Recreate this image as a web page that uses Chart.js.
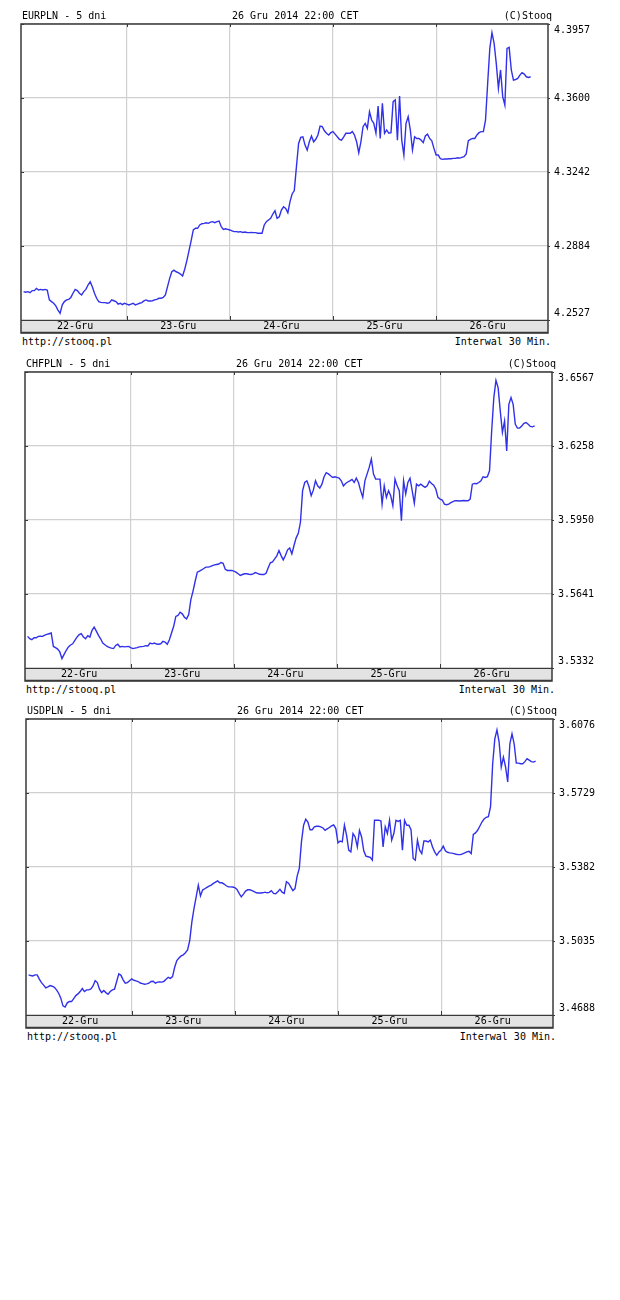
<!DOCTYPE html>
<html>
<head>
<meta charset="utf-8">
<script src="https://cdn.jsdelivr.net/npm/chart.js@4"></script>
<style>
   body { margin: 0; background: #fff; width: 620px; height: 1300px; position: relative; overflow: hidden; }
   .txt { position: absolute; font: 10px "DejaVu Sans Mono", monospace; color: #000; line-height: 12px; white-space: pre; }
   canvas { position: absolute; left: 0; }
</style>
</head>
<body>
<script>
"use strict";

// data: 30 min quotes, 22-Gru 00:00 .. 26-Gru 22:00
const dayLabels = ["22-Gru", "23-Gru", "24-Gru", "25-Gru", "26-Gru"];
const dateText = "26 Gru 2014 22:00 CET";

const eurpln = [
   4.2664, 4.2661, 4.2664, 4.2659, 4.2669, 4.2669, 4.2680, 4.2672, 4.2675, 4.2672, 4.2675, 4.2672, 4.2624, 4.2616, 4.2608, 4.2595, 4.2575, 4.2559, 4.2600, 4.2616, 4.2624, 4.2627, 4.2636, 4.2656, 4.2675, 4.2669, 4.2656, 4.2648, 4.2664, 4.2675, 4.2696, 4.2712, 4.2688, 4.2656, 4.2632, 4.2616, 4.2612, 4.2611, 4.2611, 4.2608, 4.2611, 4.2624, 4.2620, 4.2616, 4.2604, 4.2608, 4.2601, 4.2608,
   4.2604, 4.2600, 4.2604, 4.2608, 4.2600, 4.2604, 4.2608, 4.2611, 4.2619, 4.2624, 4.2619, 4.2619, 4.2620, 4.2624, 4.2627, 4.2632, 4.2632, 4.2636, 4.2648, 4.2688, 4.2728, 4.2760, 4.2768, 4.2760, 4.2756, 4.2749, 4.2740, 4.2772, 4.2814, 4.2862, 4.2910, 4.2962, 4.2970, 4.2970, 4.2986, 4.2992, 4.2994, 4.2997, 4.2994, 4.3000, 4.3002, 4.2997, 4.3002, 4.3005, 4.2978, 4.2965, 4.2968, 4.2965,
   4.2962, 4.2958, 4.2954, 4.2954, 4.2952, 4.2954, 4.2950, 4.2952, 4.2950, 4.2949, 4.2950, 4.2949, 4.2949, 4.2946, 4.2946, 4.2946, 4.2986, 4.3002, 4.3010, 4.3018, 4.3039, 4.3055, 4.3018, 4.3026, 4.3058, 4.3074, 4.3066, 4.3045, 4.3099, 4.3136, 4.3152, 4.3268, 4.3380, 4.3409, 4.3412, 4.3372, 4.3348, 4.3388, 4.3416, 4.3388, 4.3400, 4.3421, 4.3464, 4.3461, 4.3441, 4.3429, 4.3421, 4.3432,
   4.3437, 4.3425, 4.3412, 4.3400, 4.3396, 4.3412, 4.3429, 4.3429, 4.3429, 4.3437, 4.3421, 4.3388, 4.3335, 4.3388, 4.3461, 4.3477, 4.3453, 4.3533, 4.3493, 4.3477, 4.3429, 4.3561, 4.3404, 4.3574, 4.3429, 4.3445, 4.3429, 4.3432, 4.3582, 4.3590, 4.3396, 4.3609, 4.3396, 4.3324, 4.3477, 4.3509, 4.3445, 4.3348, 4.3412, 4.3404, 4.3404, 4.3396, 4.3384, 4.3416, 4.3425, 4.3404, 4.3393, 4.3356,
   4.3324, 4.3324, 4.3306, 4.3303, 4.3305, 4.3305, 4.3306, 4.3306, 4.3308, 4.3308, 4.3311, 4.3309, 4.3313, 4.3316, 4.3329, 4.3393, 4.3400, 4.3404, 4.3404, 4.3421, 4.3432, 4.3437, 4.3437, 4.3493, 4.3670, 4.3839, 4.3915, 4.3863, 4.3767, 4.3646, 4.3735, 4.3606, 4.3565, 4.3839, 4.3844, 4.3735, 4.3686, 4.3689, 4.3694, 4.3710, 4.3722, 4.3715, 4.3702, 4.3699, 4.3702,
];
const chfpln = [
   3.5464, 3.5454, 3.5450, 3.5458, 3.5458, 3.5464, 3.5465, 3.5464, 3.5469, 3.5472, 3.5475, 3.5478, 3.5422, 3.5417, 3.5411, 3.5399, 3.5371, 3.5389, 3.5406, 3.5420, 3.5428, 3.5433, 3.5447, 3.5461, 3.5471, 3.5475, 3.5461, 3.5454, 3.5467, 3.5461, 3.5489, 3.5503, 3.5486, 3.5468, 3.5454, 3.5436, 3.5429, 3.5422, 3.5418, 3.5415, 3.5413, 3.5426, 3.5431, 3.5420, 3.5422, 3.5420, 3.5421, 3.5422,
   3.5417, 3.5413, 3.5415, 3.5417, 3.5420, 3.5421, 3.5422, 3.5425, 3.5424, 3.5436, 3.5433, 3.5436, 3.5432, 3.5431, 3.5433, 3.5443, 3.5440, 3.5431, 3.5450, 3.5478, 3.5506, 3.5547, 3.5551, 3.5565, 3.5558, 3.5544, 3.5537, 3.5555, 3.5617, 3.5653, 3.5694, 3.5732, 3.5736, 3.5741, 3.5747, 3.5753, 3.5753, 3.5755, 3.5759, 3.5762, 3.5764, 3.5766, 3.5772, 3.5769, 3.5744, 3.5739, 3.5739, 3.5739,
   3.5736, 3.5732, 3.5725, 3.5718, 3.5722, 3.5725, 3.5725, 3.5723, 3.5722, 3.5725, 3.5730, 3.5727, 3.5723, 3.5722, 3.5722, 3.5727, 3.5750, 3.5771, 3.5775, 3.5787, 3.5800, 3.5822, 3.5801, 3.5783, 3.5801, 3.5825, 3.5833, 3.5808, 3.5843, 3.5875, 3.5894, 3.5940, 3.6072, 3.6106, 3.6113, 3.6088, 3.6051, 3.6074, 3.6113, 3.6092, 3.6083, 3.6099, 3.6130, 3.6147, 3.6142, 3.6134, 3.6127, 3.6130,
   3.6127, 3.6124, 3.6113, 3.6092, 3.6102, 3.6108, 3.6113, 3.6119, 3.6106, 3.6124, 3.6106, 3.6072, 3.6044, 3.6113, 3.6141, 3.6169, 3.6204, 3.6141, 3.6120, 3.6120, 3.6120, 3.6016, 3.6092, 3.6044, 3.6072, 3.6051, 3.6009, 3.6120, 3.6092, 3.6072, 3.5947, 3.6113, 3.6058, 3.6106, 3.6124, 3.6072, 3.6019, 3.6099, 3.6092, 3.6099, 3.6092, 3.6086, 3.6092, 3.6111, 3.6102, 3.6095, 3.6079, 3.6044,
   3.6037, 3.6033, 3.6016, 3.6013, 3.6016, 3.6022, 3.6026, 3.6030, 3.6030, 3.6029, 3.6030, 3.6031, 3.6030, 3.6030, 3.6037, 3.6099, 3.6102, 3.6101, 3.6106, 3.6113, 3.6130, 3.6127, 3.6130, 3.6155, 3.6321, 3.6460, 3.6532, 3.6502, 3.6405, 3.6315, 3.6363, 3.6238, 3.6432, 3.6460, 3.6432, 3.6349, 3.6333, 3.6333, 3.6342, 3.6353, 3.6356, 3.6349, 3.6340, 3.6338, 3.6342,
];
const usdpln = [
   3.4876, 3.4873, 3.4871, 3.4876, 3.4876, 3.4856, 3.4840, 3.4828, 3.4815, 3.4820, 3.4826, 3.4823, 3.4818, 3.4806, 3.4790, 3.4767, 3.4731, 3.4725, 3.4745, 3.4751, 3.4751, 3.4765, 3.4779, 3.4787, 3.4798, 3.4812, 3.4798, 3.4806, 3.4806, 3.4810, 3.4824, 3.4849, 3.4840, 3.4809, 3.4793, 3.4803, 3.4793, 3.4785, 3.4798, 3.4806, 3.4809, 3.4845, 3.4881, 3.4874, 3.4853, 3.4837, 3.4840, 3.4849,
   3.4857, 3.4851, 3.4848, 3.4845, 3.4838, 3.4835, 3.4832, 3.4834, 3.4837, 3.4845, 3.4846, 3.4837, 3.4842, 3.4843, 3.4842, 3.4846, 3.4856, 3.4865, 3.4860, 3.4868, 3.4912, 3.4943, 3.4955, 3.4965, 3.4970, 3.4980, 3.4993, 3.5037, 3.5125, 3.5188, 3.5242, 3.5297, 3.5246, 3.5274, 3.5280, 3.5286, 3.5292, 3.5297, 3.5305, 3.5311, 3.5317, 3.5308, 3.5308, 3.5302, 3.5294, 3.5289, 3.5289, 3.5288,
   3.5285, 3.5277, 3.5258, 3.5242, 3.5255, 3.5269, 3.5275, 3.5275, 3.5271, 3.5266, 3.5261, 3.5260, 3.5260, 3.5261, 3.5264, 3.5261, 3.5263, 3.5271, 3.5258, 3.5257, 3.5266, 3.5277, 3.5264, 3.5258, 3.5313, 3.5306, 3.5289, 3.5271, 3.5281, 3.5339, 3.5375, 3.5500, 3.5578, 3.5606, 3.5593, 3.5557, 3.5557, 3.5570, 3.5573, 3.5573, 3.5570, 3.5565, 3.5554, 3.5561, 3.5567, 3.5575, 3.5579, 3.5562,
   3.5495, 3.5504, 3.5500, 3.5578, 3.5531, 3.5461, 3.5453, 3.5539, 3.5523, 3.5476, 3.5554, 3.5523, 3.5458, 3.5433, 3.5430, 3.5427, 3.5414, 3.5601, 3.5601, 3.5601, 3.5598, 3.5476, 3.5570, 3.5539, 3.5601, 3.5508, 3.5539, 3.5601, 3.5596, 3.5601, 3.5461, 3.5601, 3.5578, 3.5578, 3.5557, 3.5422, 3.5414, 3.5508, 3.5461, 3.5445, 3.5504, 3.5504, 3.5500, 3.5508, 3.5476, 3.5453, 3.5437, 3.5453,
   3.5461, 3.5480, 3.5458, 3.5451, 3.5448, 3.5447, 3.5445, 3.5442, 3.5440, 3.5440, 3.5444, 3.5448, 3.5453, 3.5456, 3.5445, 3.5535, 3.5542, 3.5554, 3.5573, 3.5593, 3.5607, 3.5615, 3.5618, 3.5664, 3.5866, 3.5983, 3.6025, 3.5968, 3.5851, 3.5897, 3.5851, 3.5781, 3.5960, 3.6007, 3.5960, 3.5869, 3.5869, 3.5866, 3.5866, 3.5876, 3.5890, 3.5883, 3.5876, 3.5874, 3.5879,
];

// y axis ticks (value + printed label)
const eurTicks = [4.2527, 4.28845, 4.3242, 4.35995, 4.3957];
const eurTickLabels = ["4.2527", "4.2884", "4.3242", "4.3600", "4.3957"];
const chfTicks = [3.5332, 3.564075, 3.59495, 3.625825, 3.6567];
const chfTickLabels = ["3.5332", "3.5641", "3.5950", "3.6258", "3.6567"];
const usdTicks = [3.4688, 3.5035, 3.5382, 3.5729, 3.6076];
const usdTickLabels = ["3.4688", "3.5035", "3.5382", "3.5729", "3.6076"];

const pointsPerDay = 48;
const MONO = "DejaVu Sans Mono";
const STRIP_H = 13;
const PLOT_W = 527;
const PLOT_H = 296;

// x ticks: day boundaries (grid) and day middles (labels)
const xTickValues = dayLabels.flatMap((d, i) => (i ? [i, i + 0.5] : [0.5]));

const framePlugin = {
   id: "frame",
   beforeDraw(chart) {
      const { ctx, chartArea: a } = chart;
      ctx.save();
      ctx.fillStyle = "#e3e3e3";
      ctx.fillRect(a.left, a.bottom, a.right - a.left, STRIP_H);
      ctx.restore();
   },
   afterDraw(chart) {
      const { ctx, chartArea: a, scales } = chart;
      ctx.save();
      ctx.strokeStyle = "#3a3a3a";
      ctx.lineWidth = 1.5;
      ctx.strokeRect(a.left, a.top, a.right - a.left, a.bottom + STRIP_H - a.top);
      // thicker strip bottom
      ctx.beginPath();
      ctx.moveTo(a.left, a.bottom + STRIP_H - 0.5);
      ctx.lineTo(a.right, a.bottom + STRIP_H - 0.5);
      ctx.stroke();
      ctx.lineWidth = 1;
      ctx.beginPath();
      ctx.moveTo(a.left, a.bottom + 0.5);
      ctx.lineTo(a.right, a.bottom + 0.5);
      scales.x.ticks.forEach((t) => {
         if (!Number.isInteger(t.value)) return;
         const px = Math.round(scales.x.getPixelForValue(t.value)) + 0.5;
         ctx.moveTo(px, a.top);
         ctx.lineTo(px, a.top + 3);
         ctx.moveTo(px, a.bottom);
         ctx.lineTo(px, a.bottom - 4);
      });
      scales.y.ticks.forEach((t) => {
         const py = Math.round(scales.y.getPixelForValue(t.value)) + 0.5;
         ctx.moveTo(a.right, py);
         ctx.lineTo(a.right + 2, py);
         ctx.moveTo(a.left, py);
         ctx.lineTo(a.left + 3, py);
      });
      ctx.stroke();
      ctx.restore();
   },
};

const addText = function (text, top, left, right) {
   const el = document.createElement("div");
   el.className = "txt";
   el.textContent = text;
   el.style.top = top + "px";
   if (left !== null) el.style.left = left + "px";
   else el.style.right = right + "px";
   document.body.appendChild(el);
};

const makeChart = function (cfg) {
   const plotRight = cfg.plotLeft + PLOT_W;
   const canvas = document.createElement("canvas");
   canvas.width = 620;
   canvas.height = 4 + PLOT_H + STRIP_H + 3;
   canvas.style.top = cfg.plotTop - 4 + "px";
   document.body.appendChild(canvas);

   // header and footer
   addText(cfg.name + " - 5 dni", cfg.plotTop - 14, cfg.plotLeft + 1, null);
   addText(dateText, cfg.plotTop - 14, cfg.plotLeft + 211, null);
   addText("(C)Stooq", cfg.plotTop - 14, null, 620 - plotRight - 4);
   addText("http://stooq.pl", cfg.plotTop + PLOT_H + STRIP_H + 3, cfg.plotLeft + 1, null);
   addText("Interwal 30 Min.", cfg.plotTop + PLOT_H + STRIP_H + 3, null, 620 - plotRight - 3);

   const ticks = cfg.ticks;
   const last = ticks.length - 1;

   return new Chart(canvas.getContext("2d"), {
      type: "line",
      data: {
         datasets: [
            {
               data: cfg.values.map((v, i) => ({ x: i / pointsPerDay, y: v })),
               borderColor: "#3131ea",
               borderWidth: 1.4,
               pointRadius: 0,
               tension: 0,
            },
         ],
      },
      options: {
         responsive: false,
         animation: false,
         devicePixelRatio: 1,
         layout: {
            autoPadding: false,
            padding: { left: cfg.plotLeft, right: 620 - plotRight - 50, top: 4, bottom: 3 },
         },
         plugins: { legend: { display: false }, tooltip: { enabled: false } },
         scales: {
            x: {
               type: "linear",
               min: -0.025,
               max: 5.085,
               afterBuildTicks: (axis) => {
                  axis.ticks = xTickValues.map((v) => ({ value: v }));
               },
               afterFit: (s) => {
                  s.height = STRIP_H;
                  s.paddingLeft = 0;
                  s.paddingRight = 0;
               },
               border: { display: false },
               grid: {
                  drawTicks: false,
                  lineWidth: 1.2,
                  color: (c) => (c.tick && Number.isInteger(c.tick.value) ? "#d0d0d0" : "rgba(0,0,0,0)"),
               },
               ticks: {
                  autoSkip: false,
                  maxRotation: 0,
                  padding: 1,
                  color: "#000",
                  font: { family: MONO, size: 10, lineHeight: 1.1 },
                  callback: (v) => (Number.isInteger(v) ? "" : dayLabels[Math.floor(v)]),
               },
            },
            y: {
               position: "right",
               min: ticks[0],
               max: ticks[last],
               afterBuildTicks: (axis) => {
                  axis.ticks = ticks.map((v) => ({ value: v }));
               },
               afterFit: (s) => {
                  s.width = 50;
                  s.paddingTop = 0;
                  s.paddingBottom = 0;
               },
               border: { display: false },
               grid: { drawTicks: false, lineWidth: 1.2, color: "#d0d0d0" },
               ticks: {
                  padding: 6,
                  color: "#000",
                  font: { family: MONO, size: 10, lineHeight: 1.3 },
                  callback: (v, i) => {
                     const lbl = cfg.tickLabels[i];
                     if (i === 0) return [lbl, ""];
                     if (i === last) return ["", lbl];
                     return lbl;
                  },
               },
            },
         },
      },
      plugins: [framePlugin],
   });
};

makeChart({ name: "EURPLN", values: eurpln, ticks: eurTicks, tickLabels: eurTickLabels, plotLeft: 21, plotTop: 24 });
makeChart({ name: "CHFPLN", values: chfpln, ticks: chfTicks, tickLabels: chfTickLabels, plotLeft: 25, plotTop: 372 });
makeChart({ name: "USDPLN", values: usdpln, ticks: usdTicks, tickLabels: usdTickLabels, plotLeft: 26, plotTop: 719 });
</script>
</body>
</html>
